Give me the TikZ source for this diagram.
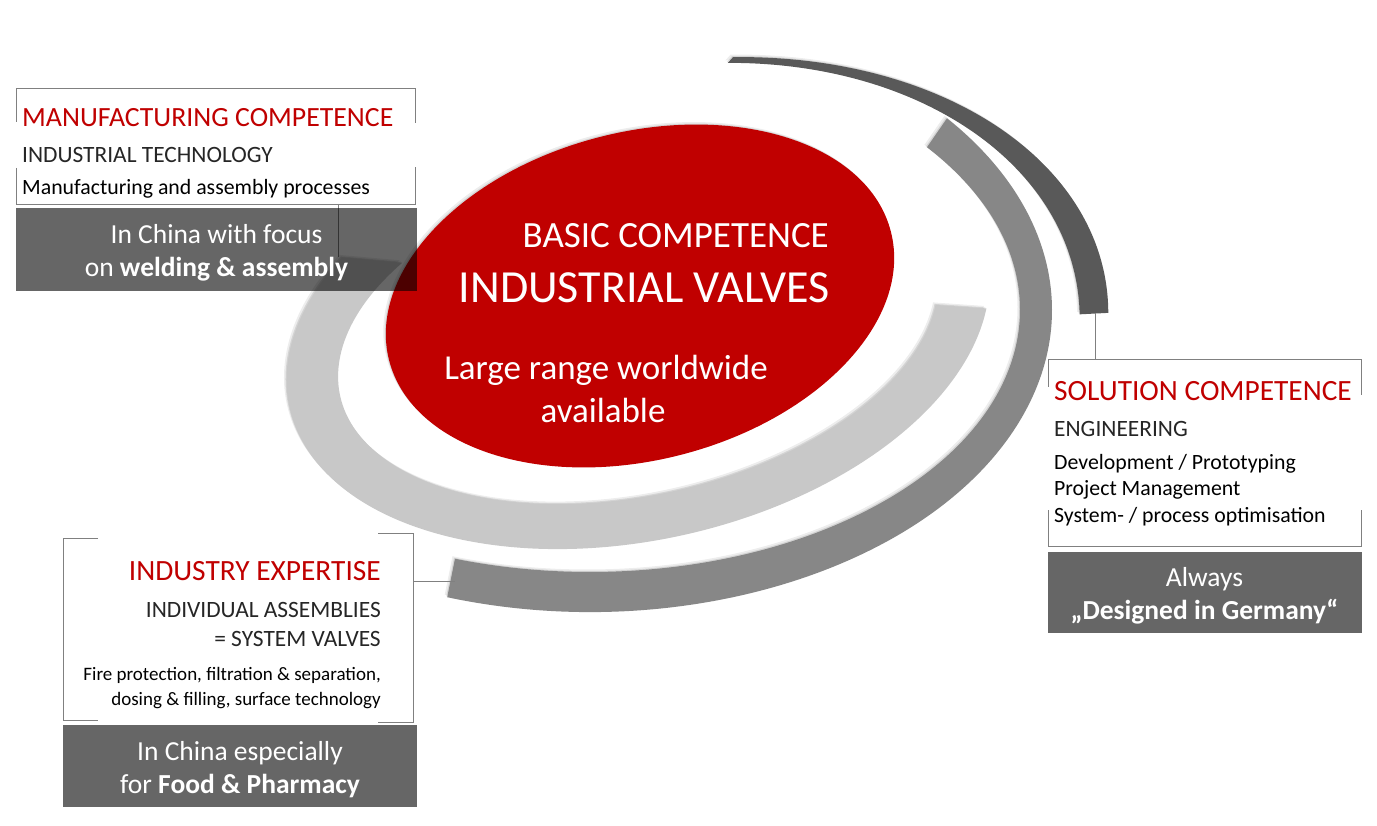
\documentclass[tikz,border=0pt]{standalone}
\usepackage{fontspec}
\setmainfont{Carlito}
\usetikzlibrary{positioning,shapes.geometric,shadows}
\definecolor{CVRed}{HTML}{C00000}
\definecolor{CVLight}{HTML}{C8C8C8}
\definecolor{CVMid}{HTML}{878787}
\definecolor{CVDark}{HTML}{595959}
\definecolor{CVFrame}{HTML}{808080}
\definecolor{CVInk}{HTML}{262626}
\tikzset{
  ring/.style n args={8}{insert path={(#1:#3pt and #4pt)
      arc[start angle=#1,end angle=#2,x radius=#3pt,y radius=#4pt]
      -- (#5:#7pt and #8pt)
      arc[start angle=#5,end angle=#6,x radius=#7pt,y radius=#8pt] -- cycle}},
  softshadow/.style={
    general shadow={shadow xshift=-1pt,shadow yshift=1pt,fill=black,opacity=.10},
    general shadow={shadow xshift=-2.5pt,shadow yshift=2.5pt,fill=black,opacity=.07}},
  boxarea/.style={inner sep=0pt,outer sep=0pt},
  boxframe/.style={draw=CVFrame,line width=0.9pt},
  link/.style={CVFrame,line width=0.9pt},
  notebox/.style={fill=black,fill opacity=0.6,text opacity=1,text=white,inner sep=0pt,
                  align=center,font=\fontsize{27.5}{33}\selectfont},
  headtxt/.style={text=CVRed,inner sep=0pt,font=\fontsize{29.4}{34}\selectfont},
  subtxt/.style={text=CVInk,inner sep=0pt,font=\fontsize{23.4}{28}\selectfont},
  bodytxt/.style={text=black,inner sep=0pt,font=\fontsize{21.8}{26}\selectfont},
  tighttxt/.style={text=black,inner sep=0pt,font=\fontsize{19}{24}\selectfont},
  coretxt/.style={text=white,inner sep=0pt,font=\fontsize{37}{44}\selectfont},
}

\begin{document}
\begin{tikzpicture}[x=1pt,y=-1pt]
  \fill[white] (0,0) rectangle (1377,826);
  \useasboundingbox (0,0) rectangle (1377,826);

  % arcs round the core
  \fill[CVLight,softshadow,shift={(638,330)},rotate=12.5,
        ring={140}{345}{357}{210}{346}{135}{305}{165}];
  \fill[CVMid,softshadow,shift={(590,310)},
        ring={-108}{39.4}{462}{302}{38.4}{-108.3}{430}{262}];
  \fill[CVDark,softshadow,shift={(690,348)},rotate=8.9,
        ring={78}{-6}{421}{287}{-5.5}{78}{392}{282}];
  \coordinate (lightTop) at (338,257);
  \coordinate (darkEnd) at (1095,313);
  \coordinate (midEnd) at (455,581);

  % core
  \node[ellipse,fill=CVRed,minimum width=518pt,minimum height=328pt,inner sep=0pt,
        rotate=14.4,softshadow] (core) at (640,296) {};
  \node[coretxt,anchor=base east] (coreHead) at (829,248) {BASIC COMPETENCE};
  \node[coretxt,font=\fontsize{46}{54}\selectfont,anchor=base east] (coreTitle) at (830,303) {INDUSTRIAL VALVES};
  \node[coretxt,font=\fontsize{35}{42}\selectfont,anchor=base] (coreNote) at (606,380) {Large range worldwide};
  \node[coretxt,font=\fontsize{35}{42}\selectfont,anchor=base] (coreNoteB) at (603,422) {available};

  % the three boxes
  \node[boxarea,minimum width=399pt,minimum height=116pt] (mfgBox) at (215.5,146) {};
  \node[boxarea,minimum width=313pt,minimum height=187pt] (solBox) at (1204.5,452.5) {};
  \node[boxarea,minimum width=350pt,minimum height=189pt] (indBox) at (238,627.5) {};

  \draw[boxframe] ([yshift=-34pt]mfgBox.north west) |- (mfgBox.north east) -- ([yshift=-35pt]mfgBox.north east);
  \draw[boxframe] ([yshift=36pt]mfgBox.south west) |- (mfgBox.south east) -- ([yshift=37pt]mfgBox.south east);
  \draw[boxframe] ([yshift=-28pt]solBox.north west) |- (solBox.north east) -- ([yshift=-36pt]solBox.north east);
  \draw[boxframe] ([yshift=36pt]solBox.south west) |- (solBox.south east) -- ([yshift=36pt]solBox.south east);
  \draw[boxframe] (98,538) -- (63,538) -- (63,720) -- (98,720);
  \draw[boxframe] (378,533) -- (413,533) -- (413,722) -- (378,722);

  \draw[link] (mfgBox.south -| lightTop) -- (lightTop);
  \draw[link] (darkEnd) -- (darkEnd |- solBox.north);
  \draw[link] (indBox.east |- midEnd) -- (midEnd);

  \node[headtxt,font=\fontsize{27.8}{34}\selectfont,anchor=base west] (mfgHead) at (22,127) {MANUFACTURING COMPETENCE};
  \node[subtxt,anchor=base west] (mfgSub) at (22,163) {INDUSTRIAL TECHNOLOGY};
  \node[bodytxt,anchor=base west] (mfgBody) at (22,195) {Manufacturing and assembly processes};

  \node[headtxt,anchor=base west] (solHead) at (1054,400) {SOLUTION COMPETENCE};
  \node[subtxt,anchor=base west] (solSub) at (1054,436) {ENGINEERING};
  \node[bodytxt,anchor=base west] (solBody) at (1054,469) {Development / Prototyping};
  \node[bodytxt,anchor=base west] (solBodyB) at (1054,495) {Project Management};
  \node[bodytxt,anchor=base west] (solBodyC) at (1054,522) {System- / process optimisation};

  \node[headtxt,anchor=base east] (indHead) at (381,580) {INDUSTRY EXPERTISE};
  \node[subtxt,anchor=base east] (indSub) at (381,617) {INDIVIDUAL ASSEMBLIES};
  \node[subtxt,anchor=base east] (indSubB) at (381,646) {= SYSTEM VALVES};
  \node[tighttxt,anchor=base east] (indBody) at (381,680) {Fire protection, filtration \& separation,};
  \node[tighttxt,anchor=base east] (indBodyB) at (381,705) {dosing \& filling, surface technology};

  % grey notes under the boxes
  \node[notebox,minimum width=401pt,minimum height=83pt,below=4pt of mfgBox,xshift=1pt] (mfgNote)
    {\rule{0pt}{25pt}In China with focus\\on \textbf{welding \& assembly}};
  \node[notebox,minimum width=314pt,minimum height=81pt,below=6pt of solBox] (solNote)
    {\rule{0pt}{25pt}Always\\\textbf{„Designed in Germany“}};
  \node[notebox,minimum width=354pt,minimum height=82pt,below=3pt of indBox,xshift=2pt] (indNote)
    {\rule{0pt}{25pt}In China especially\\for \textbf{Food \& Pharmacy}};
\end{tikzpicture}
\end{document}
